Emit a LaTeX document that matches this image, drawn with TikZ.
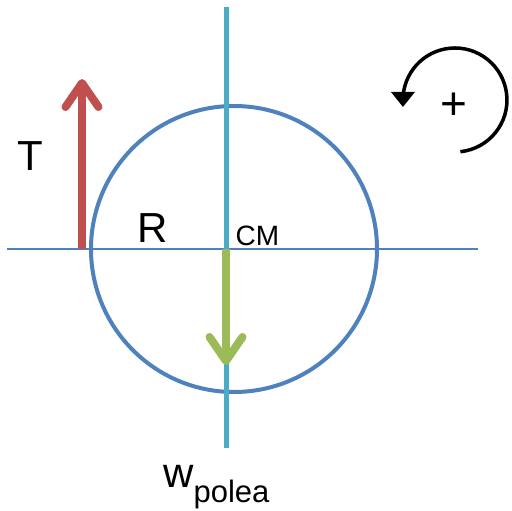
\documentclass[tikz,border=0pt]{standalone}
\usepackage{fontspec}
\setmainfont{Liberation Sans}
\usetikzlibrary{arrows.meta}
\definecolor{axisblue}{HTML}{4F81BD}
\definecolor{vcyan}{HTML}{4BACC6}
\definecolor{tred}{HTML}{C0504D}
\definecolor{wgreen}{HTML}{9BBB59}
\tikzset{
  force/.style={line width=8pt,-{Straight Barb[length=24pt,width=33pt,round]}},
  lbl/.style={inner sep=0pt,anchor=base west,text=black},
}
\begin{document}
\begin{tikzpicture}[x=1pt,y=-1pt]
\useasboundingbox (0,0) rectangle (512,511);
% coordinates
\coordinate (hl) at (7,249);
\coordinate (hr) at (478,249);
\coordinate (vt) at (226,7);
\coordinate (vb) at (226,448);
\coordinate (tb) at (82,249);
\coordinate (tt) at (82,79);
\coordinate (cm) at (226,249);
\coordinate (wt) at (226,365);
\coordinate (rots) at (460.4,151.7);
% horizontal axis
\draw[axisblue,line width=2pt] (hl) -- (hr);
% pulley
\node (pulley) [circle,draw=axisblue,line width=4pt,minimum size=286pt,inner sep=0pt] at (234,249) {};
% vertical line
\draw[vcyan,line width=5pt] (vt) -- (vb);
% forces
\draw[force,tred] (tb) -- (tt);
\draw[force,wgreen] (cm) -- (wt);
% rotation sense
\draw[black,line width=3.5pt,-{Triangle[length=15pt,width=23pt]}]
  (rots) arc[start angle=84,end angle=-180,radius=52] -- ++(0,7);
\node (plus) [inner sep=0pt] at (454,106) {\fontsize{46}{46}\selectfont +};
% labels
\node (T) [lbl] at (17,170) {\fontsize{42}{42}\selectfont T};
\node (R) [lbl] at (137,242) {\fontsize{42}{42}\selectfont R};
\node (CM) [lbl] at (235.5,245) {\fontsize{28}{28}\selectfont CM};
\node (w) [lbl] at (163,487) {\fontsize{42}{42}\selectfont w\raisebox{-15pt}{\fontsize{31}{31}\selectfont polea}};
\end{tikzpicture}
\end{document}
